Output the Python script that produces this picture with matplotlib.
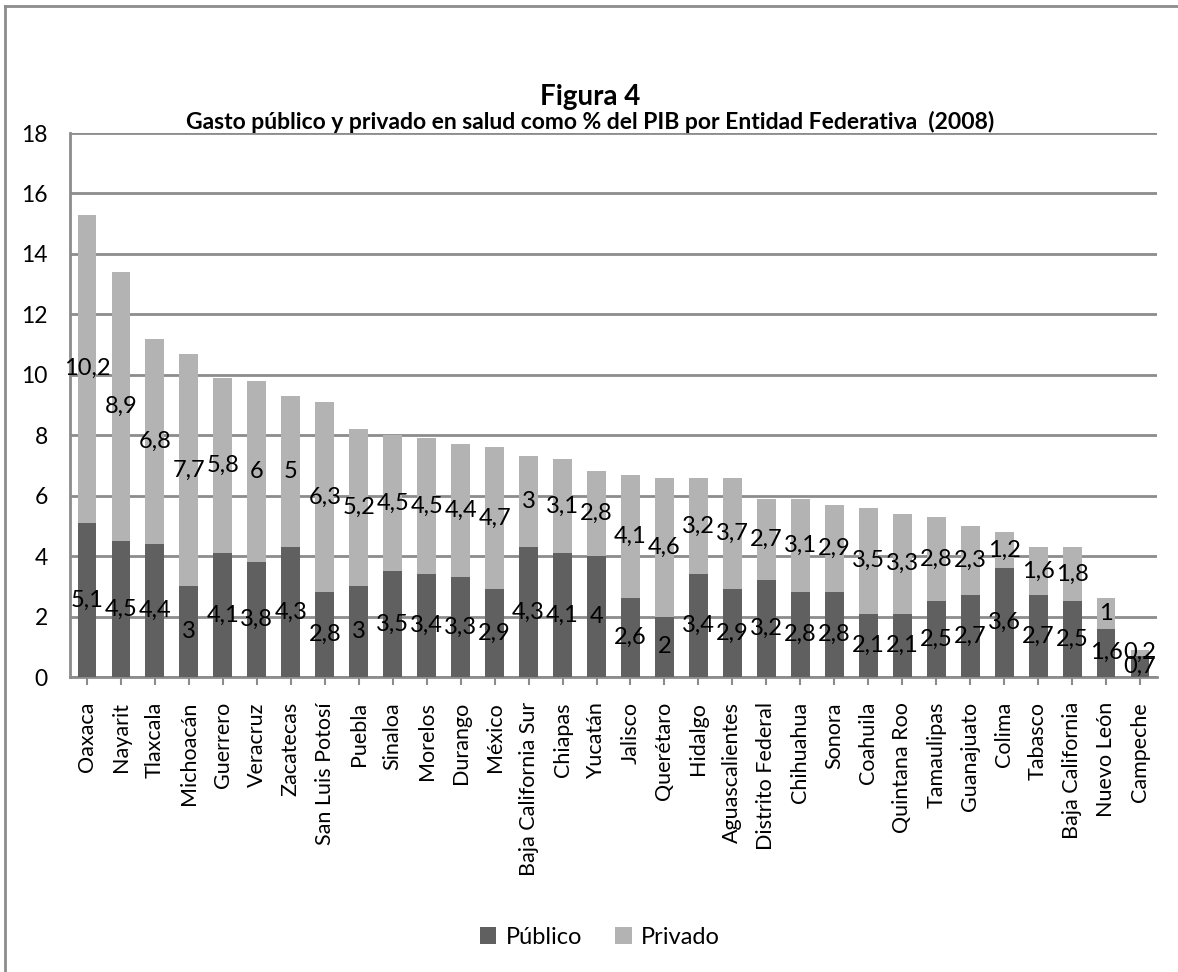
import matplotlib
matplotlib.use("Agg")
import matplotlib.pyplot as plt
from matplotlib.lines import Line2D
import numpy as np

estados = ["Oaxaca", "Nayarit", "Tlaxcala", "Michoacán", "Guerrero", "Veracruz",
           "Zacatecas", "San Luis Potosí", "Puebla", "Sinaloa", "Morelos", "Durango",
           "México", "Baja California Sur", "Chiapas", "Yucatán", "Jalisco", "Querétaro",
           "Hidalgo", "Aguascalientes", "Distrito Federal", "Chihuahua", "Sonora",
           "Coahuila", "Quintana Roo", "Tamaulipas", "Guanajuato", "Colima", "Tabasco",
           "Baja California", "Nuevo León", "Campeche"]
publico = [5.1, 4.5, 4.4, 3, 4.1, 3.8, 4.3, 2.8, 3, 3.5, 3.4, 3.3, 2.9, 4.3, 4.1, 4,
           2.6, 2, 3.4, 2.9, 3.2, 2.8, 2.8, 2.1, 2.1, 2.5, 2.7, 3.6, 2.7, 2.5, 1.6, 0.7]
privado = [10.2, 8.9, 6.8, 7.7, 5.8, 6, 5, 6.3, 5.2, 4.5, 4.5, 4.4, 4.7, 3, 3.1, 2.8,
           4.1, 4.6, 3.2, 3.7, 2.7, 3.1, 2.9, 3.5, 3.3, 2.8, 2.3, 1.2, 1.6, 1.8, 1, 0.2]
yticks = [0, 2, 4, 6, 8, 10, 12, 14, 16, 18]
titulo = "Figura 4"
subtitulo = "Gasto público y privado en salud como % del PIB por Entidad Federativa  (2008)"

FONT = "Lato"
plt.rcParams["font.family"] = [FONT, "DejaVu Sans"]

C_PUB = "#606060"
C_PRIV = "#b3b3b3"
C_GRID = "#8c8c8c"

fig = plt.figure(figsize=(11.78, 9.72), dpi=100)
ax = fig.add_axes([70 / 1178, 1 - 677 / 972, (1157 - 70) / 1178, (677 - 133) / 972])

x = np.arange(len(estados))
w = 0.556
pub = np.array(publico)
priv = np.array(privado)
ax.bar(x, pub, width=w, color=C_PUB, zorder=3, label="Público")
ax.bar(x, priv, width=w, bottom=pub, color=C_PRIV, zorder=3, label="Privado")

def fmt(v):
    return ("%g" % v).replace(".", ",")

for i in range(len(estados)):
    ax.text(x[i], pub[i] / 2, fmt(pub[i]), ha="center", va="center",
            fontsize=17, color="black", zorder=5)
    ax.text(x[i], pub[i] + priv[i] / 2, fmt(priv[i]), ha="center", va="center",
            fontsize=17, color="black", zorder=5)

ax.set_xlim(-0.5, len(estados) - 0.5)
ax.set_ylim(0, 18)
ax.set_yticks(yticks)
ax.set_yticklabels([str(t) for t in yticks], fontsize=16.5)
ax.set_xticks(x)
ax.set_xticklabels(estados, rotation=90, fontsize=15.5)
ax.tick_params(axis="y", length=0, pad=16)
ax.tick_params(axis="x", length=6, width=1.5, color=C_GRID, direction="out", pad=12)
ax.yaxis.grid(True, color=C_GRID, linewidth=2, zorder=0)
ax.set_axisbelow(True)
for s in ["top", "right"]:
    ax.spines[s].set_visible(False)
ax.spines["left"].set_color(C_GRID)
ax.spines["left"].set_linewidth(2)
ax.spines["bottom"].set_color(C_GRID)
ax.spines["bottom"].set_linewidth(2)

fig.text(590 / 1178, 1 - 97 / 972, titulo, ha="center", va="center",
         fontsize=20, fontweight="bold")
fig.text(590 / 1178, 1 - 122 / 972, subtitulo, ha="center", va="center",
         fontsize=16.5, fontweight="bold")

handles, labels = ax.get_legend_handles_labels()
fig.legend(handles, labels, loc="center", bbox_to_anchor=(600 / 1178, 1 - 937 / 972),
           ncol=2, frameon=False, fontsize=17, handlelength=0.7, handleheight=0.7,
           columnspacing=1.4, handletextpad=0.4)

# outer chart border (left and top visible)
fig.add_artist(Line2D([5 / 1178, 5 / 1178], [0, 1 - 6 / 972], transform=fig.transFigure,
                      color=C_GRID, linewidth=2))
fig.add_artist(Line2D([5 / 1178, 1], [1 - 6 / 972, 1 - 6 / 972], transform=fig.transFigure,
                      color=C_GRID, linewidth=2))

fig.savefig("out.png", dpi=100)
